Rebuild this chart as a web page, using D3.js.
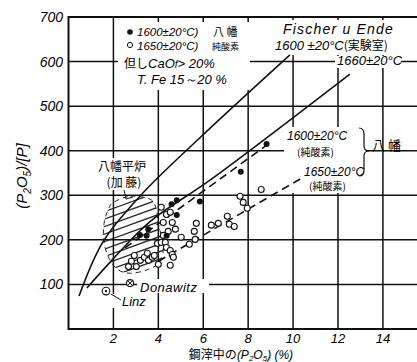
<!DOCTYPE html>
<html><head><meta charset="utf-8">
<script src="https://cdn.jsdelivr.net/npm/d3@7"></script>
<style>body{margin:0;background:#fff}svg{display:block}</style>
</head><body>
<script>
// ---- data ----
const xTickValues = [2, 4, 6, 8, 10, 12, 14];
const yTickValues = [100, 200, 300, 400, 500, 600, 700];
const fischer1600 = [[0.47, 74], [1.54, 196], [3.18, 298], [5.85, 429], [9.86, 615]];
const fischer1660 = [[0.82, 92], [2.0, 158], [3.63, 241], [6.3, 334], [12.53, 572]];
const yawata1600 = [[2.52, 182], [9.06, 421]];
const yawata1650 = [[4.0, 152], [10.4, 339]];
const filledX = [3.18, 3.48, 3.55, 4.37, 4.59, 4.82, 4.82, 5.85, 7.67, 8.82];
const filledY = [211, 209, 224, 209, 280, 289, 256, 286, 353, 415];
const openX = [2.67, 2.80, 3.02, 2.93, 3.20, 3.38, 3.51, 3.56, 3.73, 3.82, 4.00, 3.96, 4.13, 4.31, 4.36, 4.53, 4.62, 4.67, 4.53, 4.22, 4.44, 4.22, 4.36, 4.13, 4.53, 4.62, 4.76, 5.02, 5.38, 5.60, 5.64, 5.69, 6.36, 6.67, 7.07, 7.16, 7.38, 7.64, 7.78, 7.96, 8.58];
const openY = [140, 152, 140, 165, 154, 161, 170, 154, 161, 165, 145, 192, 194, 194, 183, 176, 167, 161, 143, 210, 219, 239, 257, 273, 262, 239, 224, 206, 190, 219, 201, 237, 233, 237, 253, 235, 230, 298, 284, 271, 313];
const hatchRegion = [[2.00, 284], [2.76, 298], [3.64, 291], [3.91, 269], [4.00, 235], [4.22, 190], [4.09, 152], [3.56, 134], [2.76, 125], [2.18, 134], [1.78, 161], [1.56, 201], [1.60, 242], [1.78, 269]];
const donawitz = [2.74, 103];
const linz = [1.67, 85];

// ---- setup ----
const W = 417, H = 362;
const svg = d3.select("body").append("svg").attr("width", W).attr("height", H);
const x = d3.scaleLinear().domain([0, 15.5]).range([68.5, 416.6]);
const y = d3.scaleLinear().domain([0, 700]).range([329, 17]);
const NUM = "'Liberation Sans', Arial, sans-serif";
const CJK = "'Noto Sans CJK JP', sans-serif";

const gGrid = svg.append("g");
const gBg = svg.append("g");
const gHatch = svg.append("g");
const gLines = svg.append("g");
const gPts = svg.append("g");
const gText = svg.append("g");

// grid
gGrid.selectAll(".hg").data(yTickValues).join("line")
  .attr("x1", x(0)).attr("x2", W).attr("y1", d => y(d)).attr("y2", d => y(d))
  .attr("stroke", "#111").attr("stroke-width", d => d === 700 ? 2 : 1.5);
gGrid.selectAll(".vg").data(xTickValues).join("line")
  .attr("x1", d => x(d)).attr("x2", d => x(d)).attr("y1", y(700)).attr("y2", y(0))
  .attr("stroke", "#111").attr("stroke-width", 1.5);
gGrid.append("line").attr("x1", x(0)).attr("x2", W).attr("y1", y(0)).attr("y2", y(0))
  .attr("stroke", "#111").attr("stroke-width", 2);
gGrid.append("line").attr("x1", x(0)).attr("x2", x(0)).attr("y1", y(700) - 1).attr("y2", y(0) + 1)
  .attr("stroke", "#111").attr("stroke-width", 2);

// tick labels
gText.selectAll(".yt").data(yTickValues).join("text")
  .attr("x", 63).attr("y", d => y(d) + 5).attr("text-anchor", "end")
  .attr("font-family", NUM).attr("font-style", "italic").attr("font-size", 14)
  .text(d => d);
gText.selectAll(".xt").data(xTickValues).join("text")
  .attr("x", d => x(d)).attr("y", 343).attr("text-anchor", "middle")
  .attr("font-family", NUM).attr("font-style", "italic").attr("font-size", 13)
  .text(d => d);

// axis titles
const yl = gText.append("text").attr("transform", "translate(27,176) rotate(-90)")
  .attr("text-anchor", "middle").attr("font-family", NUM).attr("font-style", "italic").attr("font-size", 15);
yl.append("tspan").text("(P");
yl.append("tspan").attr("font-size", 10).attr("dy", 4).text("2");
yl.append("tspan").attr("dy", -4).text("O");
yl.append("tspan").attr("font-size", 10).attr("dy", 4).text("5");
yl.append("tspan").attr("dy", -4).text(")/[P]");

const xl = gText.append("text").attr("x", 241).attr("y", 359).attr("text-anchor", "middle").attr("font-size", 12);
xl.append("tspan").attr("font-family", CJK).text("鋼滓中の");
xl.append("tspan").attr("font-family", NUM).attr("font-style", "italic").text("(P");
xl.append("tspan").attr("font-family", NUM).attr("font-style", "italic").attr("font-size", 8).attr("dy", 2).text("2");
xl.append("tspan").attr("font-family", NUM).attr("font-style", "italic").attr("dy", -2).text("O");
xl.append("tspan").attr("font-family", NUM).attr("font-style", "italic").attr("font-size", 8).attr("dy", 2).text("5");
xl.append("tspan").attr("font-family", NUM).attr("font-style", "italic").attr("dy", -2).text(")  (%)");

// hatch region
const defs = svg.append("defs");
defs.append("clipPath").attr("id", "hclip").append("path")
  .attr("d", d3.line().x(d => x(d[0])).y(d => y(d[1])).curve(d3.curveCardinalClosed)(hatchRegion));
const hg = gHatch.append("g").attr("clip-path", "url(#hclip)");
for (let k = 0; k < 16; k++) {
  const y0 = 215 + k * 7.5;
  hg.append("line").attr("x1", 95).attr("x2", 175).attr("y1", y0).attr("y2", y0 - 29)
    .attr("stroke", "#222").attr("stroke-width", 1.2);
}
gHatch.append("path")
  .attr("d", d3.line().x(d => x(d[0])).y(d => y(d[1])).curve(d3.curveCardinalClosed)(hatchRegion))
  .attr("fill", "none").attr("stroke", "#222").attr("stroke-width", 1).attr("stroke-dasharray", "5,4");

// curves
const lineGen = d3.line().x(d => x(d[0])).y(d => y(d[1])).curve(d3.curveCatmullRom);
gLines.append("path").attr("d", lineGen(fischer1600)).attr("fill", "none").attr("stroke", "#111").attr("stroke-width", 1.6);
gLines.append("path").attr("d", lineGen(fischer1660)).attr("fill", "none").attr("stroke", "#111").attr("stroke-width", 1.6);
gLines.append("path").attr("d", lineGen(yawata1600)).attr("fill", "none").attr("stroke", "#111").attr("stroke-width", 1.6).attr("stroke-dasharray", "8,5");
gLines.append("path").attr("d", lineGen(yawata1650)).attr("fill", "none").attr("stroke", "#111").attr("stroke-width", 1.6).attr("stroke-dasharray", "8,5");

// points
gPts.selectAll(".op").data(openX.map((v, i) => [v, openY[i]])).join("circle")
  .attr("cx", d => x(d[0])).attr("cy", d => y(d[1])).attr("r", 3)
  .attr("fill", "#fff").attr("stroke", "#111").attr("stroke-width", 1.1);
gPts.selectAll(".fp").data(filledX.map((v, i) => [v, filledY[i]])).join("circle")
  .attr("cx", d => x(d[0])).attr("cy", d => y(d[1])).attr("r", 3)
  .attr("fill", "#111");

// Donawitz and Linz symbols
gPts.append("circle").attr("cx", x(donawitz[0])).attr("cy", y(donawitz[1])).attr("r", 3.5)
  .attr("fill", "#fff").attr("stroke", "#111").attr("stroke-width", 1.1);
gPts.append("path").attr("d", `M${x(donawitz[0]) - 2.2},${y(donawitz[1]) - 2.2}l4.4,4.4M${x(donawitz[0]) + 2.2},${y(donawitz[1]) - 2.2}l-4.4,4.4`)
  .attr("stroke", "#111").attr("stroke-width", 1);
gPts.append("circle").attr("cx", x(linz[0])).attr("cy", y(linz[1])).attr("r", 3.8)
  .attr("fill", "#fff").attr("stroke", "#111").attr("stroke-width", 1.1);
gPts.append("circle").attr("cx", x(linz[0])).attr("cy", y(linz[1])).attr("r", 1.2).attr("fill", "#111");
gPts.append("path").attr("d", `M${x(linz[0]) + 5},${y(linz[1]) + 3} L121,300`).attr("stroke", "#111").attr("stroke-width", 1);

// text helper
function label(px, py, parts, opts = {}) {
  const t = gText.append("text").attr("x", px).attr("y", py).attr("text-anchor", opts.anchor || "start");
  parts.forEach(p => {
    const s = t.append("tspan").text(p.t)
      .attr("font-family", p.cjk ? CJK : NUM)
      .attr("font-style", p.cjk ? "normal" : "italic")
      .attr("font-size", p.size || 13);
    if (p.dy) s.attr("dy", p.dy);
    if (p.ls !== undefined) s.attr("letter-spacing", p.ls);
  });
  return t;
}
function bg(x0, y0, w, h) {
  gBg.append("rect").attr("x", x0).attr("y", y0).attr("width", w).attr("height", h).attr("fill", "#fff");
}

// legend
bg(118, 22, 132, 68);
gText.append("circle").attr("cx", 130).attr("cy", 32).attr("r", 2.8).attr("fill", "#111");
gText.append("circle").attr("cx", 130).attr("cy", 45).attr("r", 2.6).attr("fill", "#fff").attr("stroke", "#111").attr("stroke-width", 1);
label(137, 36, [{ t: "1600±20°C)", size: 11.5, ls: 0 }]);
label(137, 49.5, [{ t: "1650±20°C)", size: 11.5, ls: 0 }]);
label(213, 36, [{ t: "八 幡", cjk: true, size: 11 }]);
label(212, 49.5, [{ t: "純酸素", cjk: true, size: 9 }]);
label(124, 68, [{ t: "但し", cjk: true, size: 12 }, { t: "CaO", size: 13 }, { t: "f", size: 10 }, { t: "> 20%", size: 13 }]);
label(137, 84, [{ t: "T. Fe 15～20 %", size: 13 }]);

// Fischer labels
bg(272, 20, 130, 35);
bg(335, 56, 66, 12);
label(283, 34, [{ t: "Fischer u Ende", size: 14, ls: 1.2 }]);
label(275, 50, [{ t: "1600 ±20°C", size: 13 }, { t: "(実験室)", cjk: true, size: 12 }]);
label(337, 65, [{ t: "1660±20°C", size: 13 }]);

// Yawata pure O2 labels
bg(284, 127, 82, 66);
label(287, 140, [{ t: "1600±20°C", size: 12 }]);
label(297, 156, [{ t: "(純酸素)", cjk: true, size: 10 }]);
label(304, 176, [{ t: "1650±20°C", size: 12 }]);
label(309, 190, [{ t: "(純酸素)", cjk: true, size: 10 }]);
gText.append("path").attr("d", "M359,128 q5,0 5,6 v12 q0,5 5,5 q-5,0 -5,5 v14 q0,6 -5,6")
  .attr("fill", "none").attr("stroke", "#111").attr("stroke-width", 1.2);
label(372, 150, [{ t: "八 幡", cjk: true, size: 13 }]);

// hatched region label
bg(100, 158, 46, 32);
label(122, 171, [{ t: "八幡平炉", cjk: true, size: 12 }], { anchor: "middle" });
label(124, 187, [{ t: "(加 藤)", cjk: true, size: 12 }], { anchor: "middle" });
gText.append("path").attr("d", "M124,190 L126,199 L133,197").attr("fill", "none").attr("stroke", "#111").attr("stroke-width", 1);

// Donawitz / Linz labels
bg(137, 279, 72, 14);
label(140, 292, [{ t: "Donawitz", size: 13, ls: 0.5 }]);
bg(110, 294, 40, 14);
label(122, 306, [{ t: "Linz", size: 13 }]);
</script>
</body></html>
